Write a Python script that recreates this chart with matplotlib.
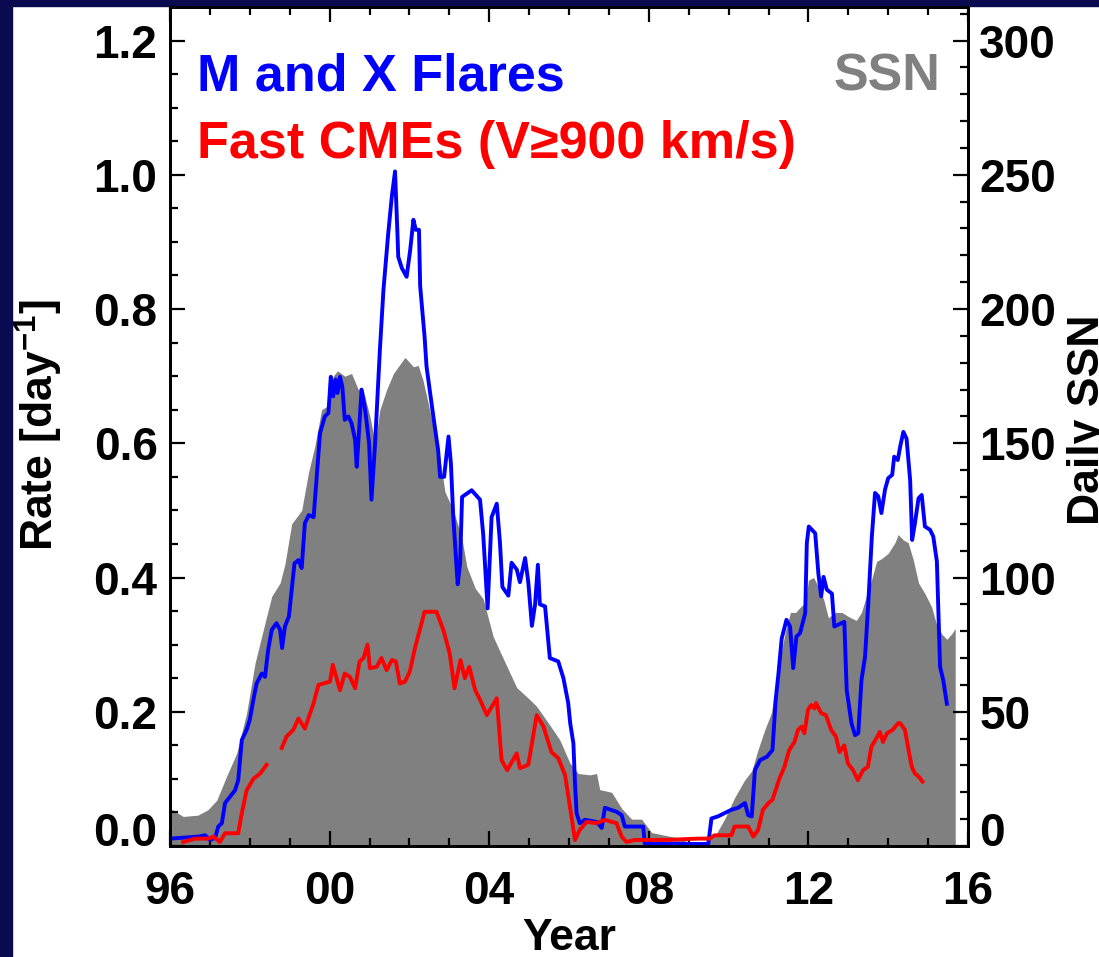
import numpy as np
import matplotlib
matplotlib.use("Agg")
import matplotlib.pyplot as plt
from matplotlib.patches import Rectangle
from matplotlib.ticker import MultipleLocator

plt.rcParams['font.family'] = ['Liberation Sans', 'DejaVu Sans']
plt.rcParams['font.weight'] = 'bold'
plt.rcParams['mathtext.fontset'] = 'custom'
plt.rcParams['mathtext.rm'] = 'Liberation Sans:bold'
plt.rcParams['mathtext.bf'] = 'Liberation Sans:bold'

# daily sunspot number (smoothed)
ssn_year = [1996.0, 1996.33, 1996.7, 1996.95, 1997.17, 1997.42, 1997.67, 1997.92, 1998.13, 1998.38,
            1998.55, 1998.76, 1998.88, 1999.05, 1999.3, 1999.47, 1999.63, 1999.8, 1999.96, 2000.09,
            2000.2, 2000.38, 2000.55, 2000.72, 2000.84, 2001.01, 2001.14, 2001.26, 2001.43, 2001.6,
            2001.72, 2001.89, 2002.1, 2002.22, 2002.34, 2002.47, 2002.6, 2002.72, 2002.89, 2003.1,
            2003.31, 2003.44, 2003.65, 2003.85, 2004.1, 2004.44, 2004.69, 2005.02, 2005.19, 2005.52,
            2005.77, 2006.02, 2006.23, 2006.53, 2006.69, 2006.77, 2007.07, 2007.32, 2007.57, 2007.82,
            2008.07, 2008.4, 2008.73, 2009.07, 2009.4, 2009.65, 2009.9, 2010.15, 2010.4, 2010.58,
            2010.74, 2010.9, 2011.07, 2011.27, 2011.43, 2011.55, 2011.68, 2011.8, 2011.92, 2012.0,
            2012.13, 2012.25, 2012.38, 2012.5, 2012.67, 2012.84, 2013.0, 2013.2, 2013.33, 2013.45,
            2013.58, 2013.71, 2013.83, 2014.0, 2014.17, 2014.25, 2014.38, 2014.5, 2014.63, 2014.76,
            2014.92, 2015.09, 2015.22, 2015.34, 2015.47, 2015.59, 2015.68]
ssn_value = [14, 11, 11.5, 13.5, 17, 26, 34.5, 49.5, 68, 83,
             93, 98, 105, 120, 125, 139, 149, 162.5, 164, 175,
             177, 175, 176, 170, 170, 160, 150, 162.5, 170, 176,
             178.5, 182, 178.5, 179, 173.5, 165, 156, 149, 132, 125,
             115, 104, 96, 92, 78, 67, 59, 54.5, 52, 45,
             39.5, 31, 27, 26.5, 27, 21, 20, 14, 10, 10,
             5, 4, 3, 1, 1, 3.5, 10, 18, 24.5, 28,
             36, 43, 49.5, 68, 80.5, 87, 87, 89, 90.5, 99,
             100, 96.5, 92, 85, 87, 87, 85.5, 84, 87, 93,
             99, 106, 107, 109, 113, 116, 114, 113, 106.5, 98,
             94, 89, 82, 79, 77, 79, 81]

# M- and X-class flare rate [per day]
flare_year = [1996.0, 1996.71, 1996.88, 1997.0, 1997.13, 1997.21, 1997.3, 1997.38, 1997.5, 1997.63,
              1997.71, 1997.8, 1997.92, 1998.0, 1998.09, 1998.17, 1998.3, 1998.38, 1998.46, 1998.55,
              1998.67, 1998.76, 1998.81, 1998.88, 1998.98, 1999.05, 1999.12, 1999.22, 1999.3, 1999.38,
              1999.48, 1999.6, 1999.67, 1999.76, 1999.88, 1999.97, 2000.03, 2000.09, 2000.15, 2000.2,
              2000.26, 2000.32, 2000.38, 2000.47, 2000.55, 2000.64, 2000.68, 2000.74, 2000.8, 2000.89,
              2000.99, 2001.05, 2001.14, 2001.26, 2001.35, 2001.47, 2001.56, 2001.64, 2001.7, 2001.72,
              2001.81, 2001.93, 2002.02, 2002.1, 2002.16, 2002.24, 2002.27, 2002.38, 2002.43, 2002.6,
              2002.72, 2002.77, 2002.87, 2002.98, 2003.04, 2003.1, 2003.21, 2003.27, 2003.32, 2003.56,
              2003.77, 2003.85, 2003.96, 2004.06, 2004.19, 2004.27, 2004.33, 2004.48, 2004.56, 2004.69,
              2004.77, 2004.9, 2004.98, 2005.07, 2005.15, 2005.22, 2005.27, 2005.4, 2005.52, 2005.73,
              2005.86, 2005.98, 2006.03, 2006.11, 2006.15, 2006.19, 2006.27, 2006.4, 2006.69, 2006.82,
              2006.9, 2007.19, 2007.32, 2007.4, 2007.86, 2007.9, 2009.49, 2009.57, 2009.73, 2009.9,
              2010.07, 2010.24, 2010.41, 2010.49, 2010.58, 2010.66, 2010.79, 2010.96, 2011.1, 2011.18,
              2011.25, 2011.33, 2011.45, 2011.54, 2011.62, 2011.7, 2011.79, 2011.92, 2011.96, 2012.01,
              2012.17, 2012.25, 2012.32, 2012.38, 2012.46, 2012.59, 2012.65, 2012.9, 2012.96, 2013.08,
              2013.17, 2013.25, 2013.33, 2013.42, 2013.5, 2013.59, 2013.67, 2013.75, 2013.83, 2013.92,
              2014.0, 2014.1, 2014.15, 2014.24, 2014.3, 2014.38, 2014.46, 2014.55, 2014.6, 2014.67,
              2014.76, 2014.84, 2014.92, 2015.05, 2015.13, 2015.22, 2015.26, 2015.3, 2015.38, 2015.47]
flare_rate = [0.011, 0.014, 0.016, 0.009, 0.012, 0.029, 0.034, 0.064, 0.073, 0.083,
              0.098, 0.158, 0.173, 0.188, 0.218, 0.242, 0.257, 0.252, 0.292, 0.322,
              0.332, 0.322, 0.295, 0.327, 0.342, 0.381, 0.421, 0.426, 0.414, 0.481,
              0.493, 0.49, 0.545, 0.615, 0.64, 0.645, 0.699, 0.67, 0.695, 0.675,
              0.699, 0.684, 0.635, 0.64, 0.63, 0.605, 0.565, 0.62, 0.68, 0.65,
              0.60, 0.516, 0.60, 0.739, 0.829, 0.913, 0.968, 1.005, 0.913, 0.878,
              0.861, 0.848, 0.888, 0.933, 0.918, 0.918, 0.834, 0.759, 0.714, 0.64,
              0.59, 0.55, 0.55, 0.61, 0.57, 0.49, 0.39, 0.42, 0.52, 0.53,
              0.516, 0.464, 0.354, 0.49, 0.51, 0.452, 0.386, 0.373, 0.422, 0.412,
              0.393, 0.429, 0.393, 0.328, 0.36, 0.419, 0.36, 0.357, 0.28, 0.275,
              0.25, 0.213, 0.183, 0.153, 0.094, 0.049, 0.034, 0.039, 0.036, 0.027,
              0.057, 0.051, 0.046, 0.029, 0.029, 0.003, 0.003, 0.041, 0.044, 0.049,
              0.054, 0.057, 0.064, 0.046, 0.044, 0.113, 0.128, 0.133, 0.143, 0.218,
              0.257, 0.309, 0.337, 0.327, 0.265, 0.312, 0.317, 0.347, 0.451, 0.476,
              0.466, 0.406, 0.372, 0.401, 0.382, 0.376, 0.327, 0.334, 0.232, 0.183,
              0.165, 0.168, 0.247, 0.282, 0.361, 0.461, 0.526, 0.521, 0.496, 0.531,
              0.548, 0.553, 0.58, 0.575, 0.595, 0.617, 0.607, 0.545, 0.456, 0.481,
              0.518, 0.523, 0.476, 0.471, 0.461, 0.424, 0.347, 0.267, 0.247, 0.212]

# fast CME rate (V >= 900 km/s) [per day], NaN marks the data gap
cme_year = [1996.33, 1996.63, 1996.96, 1997.09, 1997.25, 1997.38, 1997.71, 1997.8, 1997.92, 1998.09,
            1998.26, 1998.42, 1998.6, 1998.8, 1998.92, 1999.09, 1999.22, 1999.38, 1999.6, 1999.72,
            2000.01, 2000.08, 2000.26, 2000.38, 2000.51, 2000.64, 2000.75, 2000.85, 2000.95, 2001.01,
            2001.18, 2001.3, 2001.43, 2001.56, 2001.66, 2001.76, 2001.89, 2002.01, 2002.14, 2002.26,
            2002.38, 2002.68, 2002.85, 2003.01, 2003.13, 2003.28, 2003.39, 2003.5, 2003.65, 2003.77,
            2003.94, 2004.19, 2004.31, 2004.45, 2004.69, 2004.77, 2004.98, 2005.19, 2005.36, 2005.56,
            2005.73, 2005.9, 2006.02, 2006.15, 2006.27, 2006.44, 2006.69, 2006.9, 2007.19, 2007.32,
            2007.44, 2007.65, 2008.4, 2009.24, 2009.53, 2009.65, 2010.07, 2010.15, 2010.49, 2010.62,
            2010.74, 2010.86, 2011.0, 2011.1, 2011.27, 2011.4, 2011.52, 2011.65, 2011.74, 2011.83,
            2011.9, 2011.99, 2012.07, 2012.15, 2012.19, 2012.32, 2012.44, 2012.57, 2012.69, 2012.78,
            2012.9, 2012.99, 2013.12, 2013.24, 2013.37, 2013.49, 2013.58, 2013.7, 2013.79, 2013.87,
            2013.97, 2014.11, 2014.25, 2014.3, 2014.42, 2014.51, 2014.59, 2014.67, 2014.77, 2014.86]
cme_rate = [0.006, 0.011, 0.011, 0.014, 0.006, 0.019, 0.019, 0.049, 0.083, 0.10,
            0.108, 0.121, np.nan, 0.146, 0.163, 0.173, 0.19, 0.175, 0.213, 0.24,
            0.245, 0.27, 0.232, 0.257, 0.252, 0.235, 0.275, 0.28, 0.30, 0.265,
            0.267, 0.28, 0.262, 0.277, 0.275, 0.242, 0.245, 0.26, 0.295, 0.322,
            0.349, 0.349, 0.322, 0.287, 0.235, 0.277, 0.25, 0.267, 0.232, 0.218,
            0.195, 0.22, 0.128, 0.113, 0.138, 0.116, 0.121, 0.195, 0.178, 0.14,
            0.131, 0.106, 0.06, 0.009, 0.024, 0.036, 0.034, 0.039, 0.034, 0.014,
            0.006, 0.009, 0.009, 0.011, 0.011, 0.016, 0.016, 0.029, 0.029, 0.014,
            0.024, 0.054, 0.064, 0.069, 0.10, 0.118, 0.143, 0.155, 0.173, 0.178,
            0.168, 0.203, 0.21, 0.205, 0.213, 0.198, 0.195, 0.173, 0.163, 0.14,
            0.15, 0.123, 0.113, 0.098, 0.113, 0.118, 0.148, 0.16, 0.17, 0.155,
            0.168, 0.173, 0.183, 0.183, 0.173, 0.143, 0.118, 0.108, 0.103, 0.096]

year_ticks = [1996, 2000, 2004, 2008, 2012, 2016]
year_labels = ['96', '00', '04', '08', '12', '16']
rate_ticks = [0.0, 0.2, 0.4, 0.6, 0.8, 1.0, 1.2]
ssn_ticks = [0, 50, 100, 150, 200, 250, 300]

W, H = 1099, 957
fig = plt.figure(figsize=(W / 100, H / 100), dpi=100, facecolor='white')

# dark frame strips on the left and top
navy = '#0a0a50'
fig.patches.append(Rectangle((0, 0), 12 / W, 1, transform=fig.transFigure, color=navy, zorder=0))
fig.patches.append(Rectangle((0, 1 - 6 / H), 1, 6 / H, transform=fig.transFigure, color=navy, zorder=0))

left, right, bottom, top = 170, 968, 846, 7
ax = fig.add_axes([left / W, 1 - bottom / H, (right - left) / W, (bottom - top) / H])
ax2 = ax.twinx()
ax.set_zorder(ax2.get_zorder() + 1)
ax.patch.set_visible(False)

ax2.fill_between(ssn_year, 0, ssn_value, color='#808080', linewidth=0)
ax.plot(flare_year, flare_rate, color='#0000ff', lw=2.8)
ax.plot(cme_year, cme_rate, color='#ff0000', lw=2.8)

ax.set_xlim(1996, 2016)
ax.set_ylim(0, 1.25)
ax2.set_ylim(0, 312.5)

ax.set_xticks(year_ticks)
ax.set_xticklabels(year_labels)
ax.xaxis.set_minor_locator(MultipleLocator(1))
ax.set_yticks(rate_ticks)
ax.set_yticklabels(['%.1f' % v for v in rate_ticks])
ax.yaxis.set_minor_locator(MultipleLocator(0.05))
ax2.set_yticks(ssn_ticks)
ax2.set_yticklabels([str(v) for v in ssn_ticks])
ax2.yaxis.set_minor_locator(MultipleLocator(10))

fs = 33
ax.tick_params(axis='x', which='both', direction='in', top=True, bottom=True, width=1.6,
               labelsize=fs, pad=17)
ax.tick_params(axis='y', which='both', direction='in', left=True, right=False, width=1.6,
               labelsize=fs, pad=9)
ax2.tick_params(axis='y', which='both', direction='in', width=1.6, labelsize=fs, pad=8)
for a in (ax, ax2):
    a.tick_params(which='major', length=11)
    a.tick_params(which='minor', length=6)
    for s in a.spines.values():
        s.set_linewidth(2)

# zero labels sit on their baseline
ax.get_yticklabels()[0].set_va('baseline')
ax2.get_yticklabels()[0].set_va('baseline')

ax.text(0.034, 0.900, 'M and X Flares', transform=ax.transAxes, color='#0000ff',
        fontsize=37.5, ha='left', va='baseline')
ax.text(0.034, 0.820, 'Fast CMEs (V\u2265900 km/s)', transform=ax.transAxes, color='#ff0000',
        fontsize=37.5, ha='left', va='baseline')
ax.text(0.966, 0.900, 'SSN', transform=ax.transAxes, color='#808080',
        fontsize=37.5, ha='right', va='baseline')

fig.text(13 / W, 1 - 425 / H, r'Rate [day$^{-1}$]', rotation=90, ha='left', va='center', fontsize=32)
fig.text(1067 / W, 1 - 420 / H, 'Daily SSN', rotation=90, ha='left', va='center', fontsize=32)
fig.text(569 / W, 1 - 918 / H, 'Year', ha='center', va='top', fontsize=32)

fig.savefig('out.png', dpi=100, facecolor='white')
